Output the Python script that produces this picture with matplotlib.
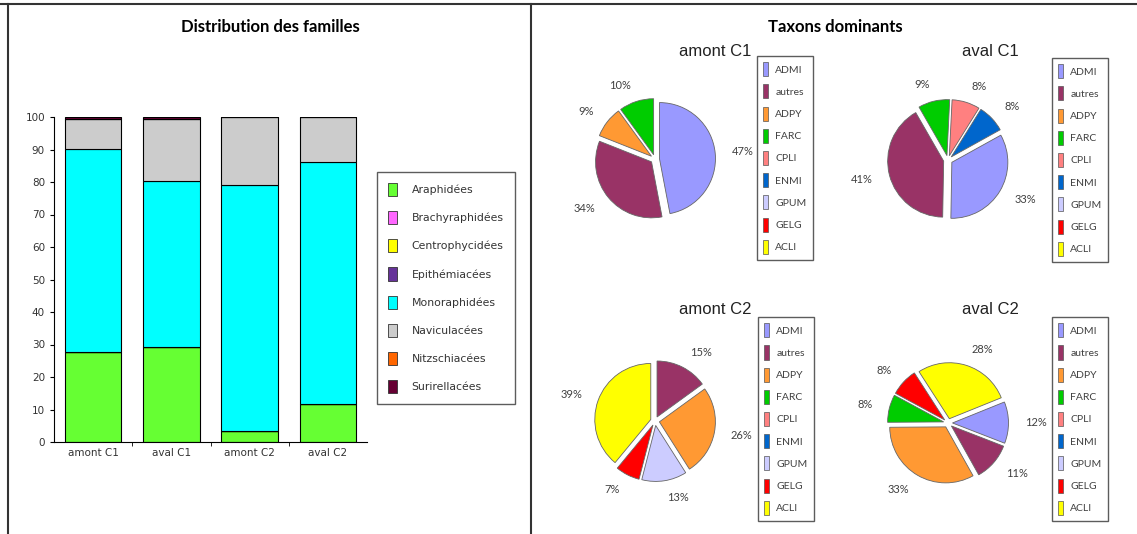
import numpy as np
import matplotlib
matplotlib.use("Agg")
import matplotlib.pyplot as plt
from matplotlib.patches import Patch
from matplotlib.lines import Line2D

# --- bar chart data (% per family) ---
sites = ["amont C1", "aval C1", "amont C2", "aval C2"]
families = ["Araphidées", "Brachyraphidées", "Centrophycidées", "Epithémiacées",
            "Monoraphidées", "Naviculacées", "Nitzschiacées", "Surirellacées"]
fam_colors = ["#66ff33", "#ff66ff", "#ffff00", "#663399",
              "#00ffff", "#cccccc", "#ff6600", "#660033"]
araphidees = [27.6, 29.2, 3.5, 11.6]
brachyraphidees = [0, 0, 0, 0]
centrophycidees = [0, 0, 0, 0]
epithemiacees = [0, 0, 0, 0]
monoraphidees = [62.6, 51.0, 75.6, 74.7]
naviculacees = [9.3, 19.3, 20.9, 13.7]
nitzschiacees = [0, 0, 0, 0]
surirellacees = [0.5, 0.5, 0, 0]

# --- pie data (% per taxon) ---
taxa = ["ADMI", "autres", "ADPY", "FARC", "CPLI", "ENMI", "GPUM", "GELG", "ACLI"]
taxa_colors = ["#9999ff", "#993366", "#ff9933", "#00cc00", "#ff8080",
               "#0066cc", "#ccccff", "#ff0000", "#ffff00"]
amont_c1 = [47, 34, 9, 10, 0, 0, 0, 0, 0]
aval_c1 = [33, 41, 0, 9, 8, 8, 0, 0, 0]
amont_c2 = [0, 15, 26, 0, 0, 0, 13, 7, 39]
aval_c2 = [12, 11, 33, 8, 0, 0, 0, 8, 28]

W, H = 1137, 534
fig = plt.figure(figsize=(W / 100, H / 100), dpi=100)
fig.patch.set_facecolor("white")


def px_axes(x0, y0, x1, y1):
    return fig.add_axes([x0 / W, 1 - y1 / H, (x1 - x0) / W, (y1 - y0) / H])


# panel frame lines
fig.add_artist(Line2D([0, 1], [1 - 4 / H, 1 - 4 / H], color="#333333", lw=1.5))
fig.add_artist(Line2D([8 / W, 8 / W], [0, 1 - 4 / H], color="#333333", lw=1.5))
fig.add_artist(Line2D([531 / W, 531 / W], [0, 1 - 4 / H], color="#333333", lw=1.5))

fig.text(270 / W, 1 - 27 / H, "Distribution des familles", ha="center", va="center",
         fontsize=12, fontweight="bold", family="Lato")
fig.text(835 / W, 1 - 27 / H, "Taxons dominants", ha="center", va="center",
         fontsize=12, fontweight="bold", family="Lato")

# --- stacked bars ---
ax = px_axes(54, 117, 367, 442)
series = [araphidees, brachyraphidees, centrophycidees, epithemiacees,
          monoraphidees, naviculacees, nitzschiacees, surirellacees]
x = np.arange(len(sites))
bottom = np.zeros(len(sites))
for vals, col in zip(series, fam_colors):
    vals = np.array(vals, dtype=float)
    ax.bar(x, vals, 0.72, bottom=bottom, color=col, edgecolor="black", linewidth=0.8)
    bottom += vals
ax.set_xlim(-0.5, 3.5)
ax.set_ylim(0, 100)
ax.set_yticks(range(0, 101, 10))
ax.set_xticks(x)
ax.set_xticklabels(sites)
ax.set_xticks([0.5, 1.5, 2.5], minor=True)
ax.tick_params(axis="x", which="major", length=0, labelsize=7.5, pad=4)
ax.tick_params(axis="x", which="minor", length=3, direction="out")
ax.tick_params(axis="y", labelsize=7.5, length=3, direction="out")
for s in ["top", "right"]:
    ax.spines[s].set_visible(False)
for lab in ax.get_xticklabels() + ax.get_yticklabels():
    lab.set_color("#333333")

handles = [Patch(facecolor=c, edgecolor="#333333", linewidth=0.6) for c in fam_colors]
leg = fig.legend(handles, families, loc="upper left",
                 bbox_to_anchor=(377 / W, 1 - 172 / H), fontsize=7.8,
                 frameon=True, fancybox=False, edgecolor="#333333",
                 handlelength=0.8, handleheight=1.5, labelspacing=1.38,
                 handletextpad=1.4, borderpad=1.0, borderaxespad=0)
leg.get_frame().set_linewidth(1.0)
for t in leg.get_texts():
    t.set_color("#333333")

# --- pies ---
pies = [
    ("amont C1", amont_c1, 90, (655, 159), (715, 52), (757, 56)),
    ("aval C1", aval_c1, 29, (948, 160), (990, 52), (1052, 58)),
    ("amont C2", amont_c2, 90, (655, 421), (715, 310), (758, 317)),
    ("aval C2", aval_c2, 22, (948, 423), (990, 310), (1052, 317)),
]
r = 56
lim = 1.7
for title, vals, start, (cx, cy), (tx, ty), (lx, ly) in pies:
    s = lim * r
    pax = px_axes(cx - s, cy - s, cx + s, cy + s)
    vals = np.array(vals)
    keep = vals > 0
    pax.pie(vals[keep], colors=np.array(taxa_colors)[keep],
            labels=[f"{v}%" for v in vals[keep]], startangle=start,
            counterclock=False, explode=[0.08] * keep.sum(), labeldistance=1.3,
            wedgeprops=dict(edgecolor="#666666", linewidth=0.6),
            textprops=dict(fontsize=8, color="#404040", family="Lato"))
    pax.set_xlim(-lim, lim)
    pax.set_ylim(-lim, lim)
    pax.set_aspect("equal")
    pax.axis("off")
    fig.text(tx / W, 1 - ty / H, title, ha="center", va="center", fontsize=12,
             family="Liberation Sans", color="#222222")
    th = [Patch(facecolor=c, edgecolor="#555555", linewidth=0.5) for c in taxa_colors]
    lg = fig.legend(th, taxa, loc="upper left", bbox_to_anchor=(lx / W, 1 - ly / H),
                    frameon=True, fancybox=False, edgecolor="#333333",
                    handlelength=0.45, handleheight=1.7, labelspacing=0.78,
                    handletextpad=0.7, borderpad=0.6, borderaxespad=0,
                    prop=dict(family="Lato", size=7.5))
    lg.get_frame().set_linewidth(1.0)
    for t in lg.get_texts():
        t.set_color("#404040")

fig.savefig("out.png", dpi=100, facecolor="white")
